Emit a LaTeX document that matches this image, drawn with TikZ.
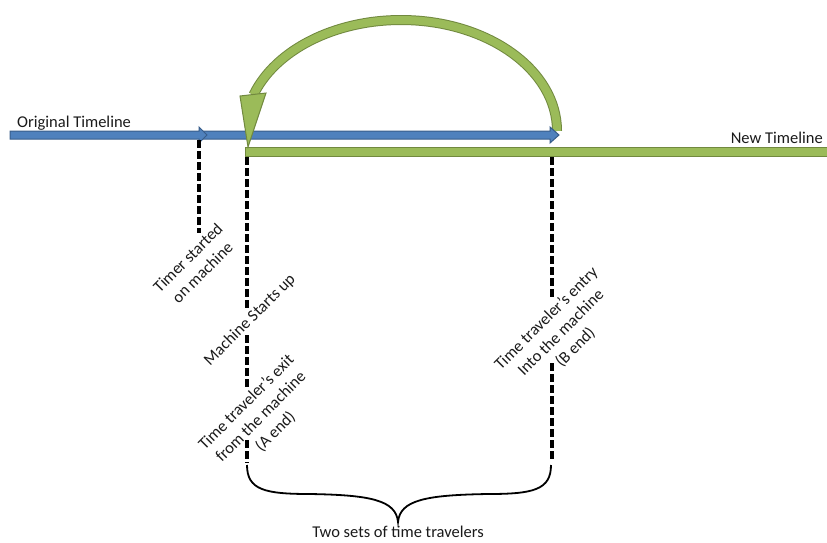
\documentclass[tikz,border=0pt]{standalone}
\usepackage{fontspec}
\setmainfont{Carlito}
\definecolor{bluefill}{HTML}{4F81BD}
\definecolor{blueline}{HTML}{385D8A}
\definecolor{greenfill}{HTML}{9BBB59}
\definecolor{greenline}{HTML}{71893F}
\definecolor{txt}{HTML}{1A1A1A}
\begin{document}
\begin{tikzpicture}[x=1pt,y=-1pt,
  bluearrow/.style={fill=bluefill,draw=blueline,line width=1pt,line join=miter},
  greenbar/.style={fill=greenfill,draw=greenline,line width=1pt},
  greenarc/.style={draw=greenline,line width=1pt,double=greenfill,double distance=8pt},
  vline/.style={draw=black,line width=3.3pt,dash pattern=on 8pt off 3pt},
  lbl/.style={text=txt,font=\fontsize{16.5}{20.5}\selectfont,inner sep=0pt},
  rlbl/.style={lbl,rotate=45,align=center}]
\useasboundingbox (0,0) rectangle (827,542);
% new timeline
\draw[greenbar] (245,147.5) rectangle (840,156.5);
% loop arc
\draw[greenarc] (557,131) arc[start angle=0,end angle=161,x radius=156pt,y radius=111pt];
% blue timeline arrows
\draw[bluearrow] (203,131) -- (550,131) -- (550,127) -- (559,135) -- (550,143) -- (550,139) -- (203,139) -- cycle;
\draw[bluearrow] (10,131) -- (199,131) -- (199,127) -- (207,135) -- (199,143) -- (199,139) -- (10,139) -- cycle;
% green arrow head
\draw[greenbar,line join=miter] (240,96) -- (266,93) -- (248,147) -- cycle;
% coordinates for event lines
\coordinate (t0) at (199,140); \coordinate (t1) at (199,233);
\coordinate (a0) at (247,157); \coordinate (a1) at (247,310);
\coordinate (a2) at (247,335); \coordinate (a3) at (247,387);
\coordinate (a4) at (247,440); \coordinate (a5) at (247,463);
\coordinate (b0) at (552,157); \coordinate (b1) at (552,298);
\coordinate (b2) at (552,363); \coordinate (b3) at (552,460);
\draw[vline] (t0) -- (t1);
\draw[vline] (a0) -- (a1);
\draw[vline] (a2) -- (a3);
\draw[vline] (a4) -- (a5);
\draw[vline] (b0) -- (b1);
\draw[vline] (b2) -- (b3);
% brace
\coordinate (bl) at (247,465); \coordinate (br) at (551,465); \coordinate (bt) at (398,522);
\draw[line width=1.8pt] (bl) .. controls (247,490) and (265,494) .. (310,494)
  .. controls (370,495) and (396,500) .. (bt)
  .. controls (400,500) and (426,495) .. (488,494)
  .. controls (533,494) and (551,490) .. (br);
% labels
\node[lbl,anchor=base west] (orig) at (17,127) {Original Timeline};
\node[lbl,anchor=base east] (new) at (823,143) {New Timeline};
\node[lbl,anchor=base] (two) at (398,537) {Two sets of time travelers};
\node[rlbl] (timer) at (195,265) {Timer started\\on machine};
\node[rlbl] (start) at (250,320) {Machine Starts up};
\node[rlbl] (exit) at (261,417) {Time traveler’s exit\\from the machine\\(A end)};
\node[rlbl] (entry) at (561,333) {Time traveler’s entry\\Into the machine\\(B end)};
\end{tikzpicture}
\end{document}
